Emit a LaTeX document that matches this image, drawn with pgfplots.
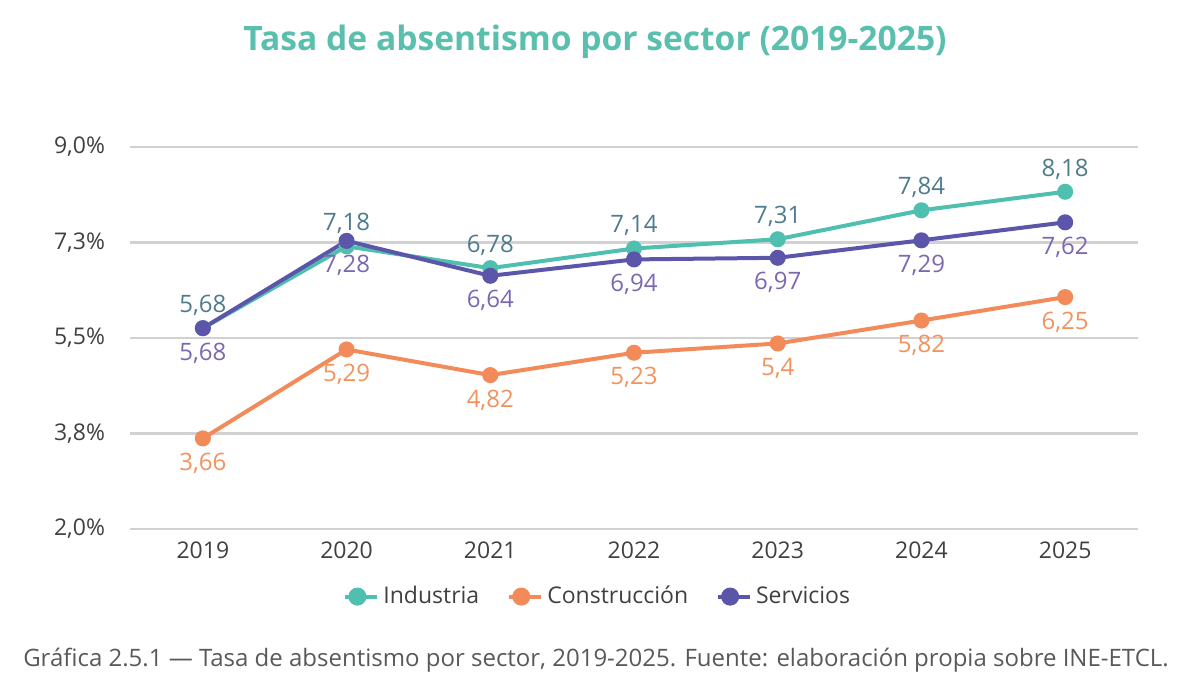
\documentclass[border=0pt]{standalone}
\usepackage{pgfplots}
\pgfplotsset{compat=1.18}
\usepackage{fontspec}
\setmainfont{Open Sans}
\definecolor{cInd}{HTML}{4FBFAF}
\definecolor{cCon}{HTML}{F28A5A}
\definecolor{cSer}{HTML}{5B56AA}
\definecolor{lInd}{HTML}{4E7C8C}
\definecolor{lCon}{HTML}{F0935F}
\definecolor{lSer}{HTML}{7A68B2}
\definecolor{title}{HTML}{5BBFAE}
\definecolor{txt}{HTML}{404040}
\begin{document}
\begin{tikzpicture}
\path[use as bounding box] (0,0) rectangle (600pt,345pt);
\begin{axis}[
  at={(65pt,80.5pt)}, anchor=south west,
  scale only axis, width=504pt, height=191pt,
  xmin=-0.507, xmax=6.507, ymin=2, ymax=9,
  axis line style={draw=none},
  ytick={2,3.75,5.5,7.25,9},
  yticklabels={{2,0\%},{3,8\%},{5,5\%},{7,3\%},{9,0\%}},
  xtick={0,...,6},
  xticklabels={2019,2020,2021,2022,2023,2024,2025},
  ymajorgrids, grid style={draw=black!18, line width=1.1pt},
  tick style={draw=none},
  yticklabel style={font=\fontsize{11.5}{13}\selectfont, text=txt, xshift=-9pt},
  xticklabel style={font=\fontsize{11.5}{13}\selectfont, text=txt, yshift=-3pt},
  /pgf/number format/assume math mode=true,
  /pgf/number format/use comma,
  clip=false,
  every axis plot/.append style={line width=2pt, mark=*, mark size=3pt},
  nodes near coords,
  every node near coord/.append style={font=\fontsize{12}{14}\selectfont},
  legend columns=3,
  legend style={at={(0.465,-0.128)}, anchor=north, draw=none, fill=none,
    font=\fontsize{11.5}{13}\selectfont, text=txt,
    /tikz/every even column/.append style={column sep=12pt}},
  legend image code/.code={
    \draw[#1, line width=2pt, mark=none] (0pt,0pt) -- (12pt,0pt);
    \fill[#1] (6pt,0pt) circle (3.5pt);
    \path (0pt,0pt) -- (16pt,0pt);
  },
]
\addplot[cInd, every node near coord/.append style={text=lInd, anchor=south, yshift=2pt}]
  coordinates {(0,5.68) (1,7.18) (2,6.78) (3,7.14) (4,7.31) (5,7.84) (6,8.18)};
\addlegendentry{Industria}
\addplot[cCon, every node near coord/.append style={text=lCon, anchor=north, yshift=-3pt}]
  coordinates {(0,3.66) (1,5.29) (2,4.82) (3,5.23) (4,5.40) (5,5.82) (6,6.25)};
\addlegendentry{Construcción}
\addplot[cSer, every node near coord/.append style={text=lSer, anchor=north, yshift=-3pt}]
  coordinates {(0,5.68) (1,7.28) (2,6.64) (3,6.94) (4,6.97) (5,7.29) (6,7.62)};
\addlegendentry{Servicios}
\end{axis}
\node[font=\fontsize{16.8}{20}\selectfont\bfseries, text=title] at (297.5pt,324pt) {Tasa de absentismo por sector (2019-2025)};
\node[font=\fontsize{12}{14}\selectfont, text=black!65] at (298pt,15pt) {Gráfica 2.5.1 — Tasa de absentismo por sector, 2019-2025. Fuente: elaboración propia sobre INE-ETCL.};
\end{tikzpicture}
\end{document}
